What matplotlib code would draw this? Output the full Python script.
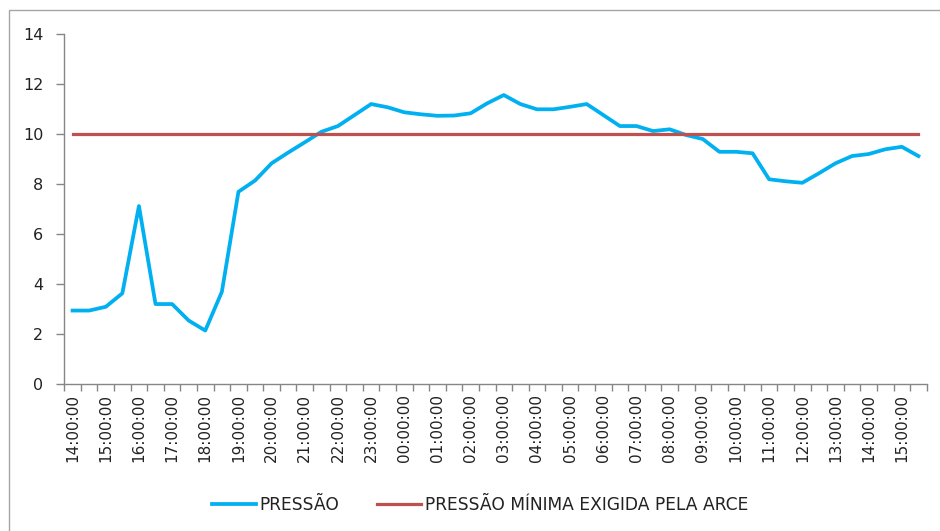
import matplotlib
matplotlib.use("Agg")
import matplotlib.pyplot as plt
from matplotlib.patches import Rectangle

# Data: half-hourly readings 14:00 -> 15:30 next day
hours = ["14", "15", "16", "17", "18", "19", "20", "21", "22", "23",
         "00", "01", "02", "03", "04", "05", "06", "07", "08", "09",
         "10", "11", "12", "13", "14", "15"]
categories = []
for h in hours:
    categories.append(f"{h}:00:00")
    categories.append(f"{h}:30:00")

pressao = [2.95, 2.95, 3.1, 3.64, 7.13, 3.21, 3.21, 2.55, 2.15, 3.7,
           7.7, 8.15, 8.84, 9.27, 9.68, 10.1, 10.33, 10.77, 11.21, 11.08,
           10.88, 10.8, 10.74, 10.75, 10.84, 11.24, 11.57, 11.21, 11.0, 11.0,
           11.1, 11.21, 10.77, 10.33, 10.33, 10.13, 10.2, 9.97, 9.81, 9.3,
           9.3, 9.24, 8.2, 8.12, 8.06, 8.44, 8.84, 9.13, 9.21, 9.4,
           9.5, 9.13]
pressao_minima = [10.0] * len(categories)

label_serie1 = "PRESSÃO"
label_serie2 = "PRESSÃO MÍNIMA EXIGIDA PELA ARCE"
yticks = [0, 2, 4, 6, 8, 10, 12, 14]

W, H = 940, 531
fig = plt.figure(figsize=(W / 100, H / 100), dpi=100)
fig.patch.set_facecolor("white")

# outer chart border (light gray)
fig.add_artist(Rectangle((9 / W, -0.05), 1.2, (H - 10) / H + 0.05,
                         transform=fig.transFigure, fill=False,
                         edgecolor="#a6a6a6", linewidth=1.0))

left, right = 64.3 / W, 926.7 / W
bottom, top = (H - 384.3) / H, (H - 34.3) / H
ax = fig.add_axes([left, bottom, right - left, top - bottom])

x = list(range(len(categories)))
l1, = ax.plot(x, pressao, color="#00B0F0", linewidth=2.7,
              solid_joinstyle="round", label=label_serie1)
l2, = ax.plot(x, pressao_minima, color="#C0504D", linewidth=2.3,
              label=label_serie2)

ax.set_xlim(-0.5, len(categories) - 0.5)
ax.set_ylim(0, 14)
ax.set_yticks(yticks)
ax.set_yticklabels([str(v) for v in yticks])

# x ticks: labels at every hour, tick marks at category boundaries
ax.set_xticks(x[::2])
ax.set_xticklabels(categories[::2], rotation=90)
ax.set_xticks([i - 0.5 for i in range(len(categories) + 1)], minor=True)

for s in ["top", "right"]:
    ax.spines[s].set_visible(False)
for s in ["left", "bottom"]:
    ax.spines[s].set_color("#868686")
    ax.spines[s].set_linewidth(1.0)

ax.tick_params(axis="y", which="major", length=6, width=1.0, color="#868686",
               labelsize=11.5, pad=9, labelcolor="#222222")
ax.tick_params(axis="x", which="major", length=0, labelsize=11,
               pad=7, labelcolor="#222222")
ax.tick_params(axis="x", which="minor", length=5, width=1.0, color="#868686")

leg = fig.legend(handles=[l1, l2], loc="center", ncol=2,
                 bbox_to_anchor=(480 / W, (H - 505) / H),
                 frameon=False, fontsize=12.3, handlelength=2.6,
                 handletextpad=0.2, columnspacing=2.2)
for t in leg.get_texts():
    t.set_color("#222222")

fig.savefig("out.png", dpi=100, facecolor="white")
